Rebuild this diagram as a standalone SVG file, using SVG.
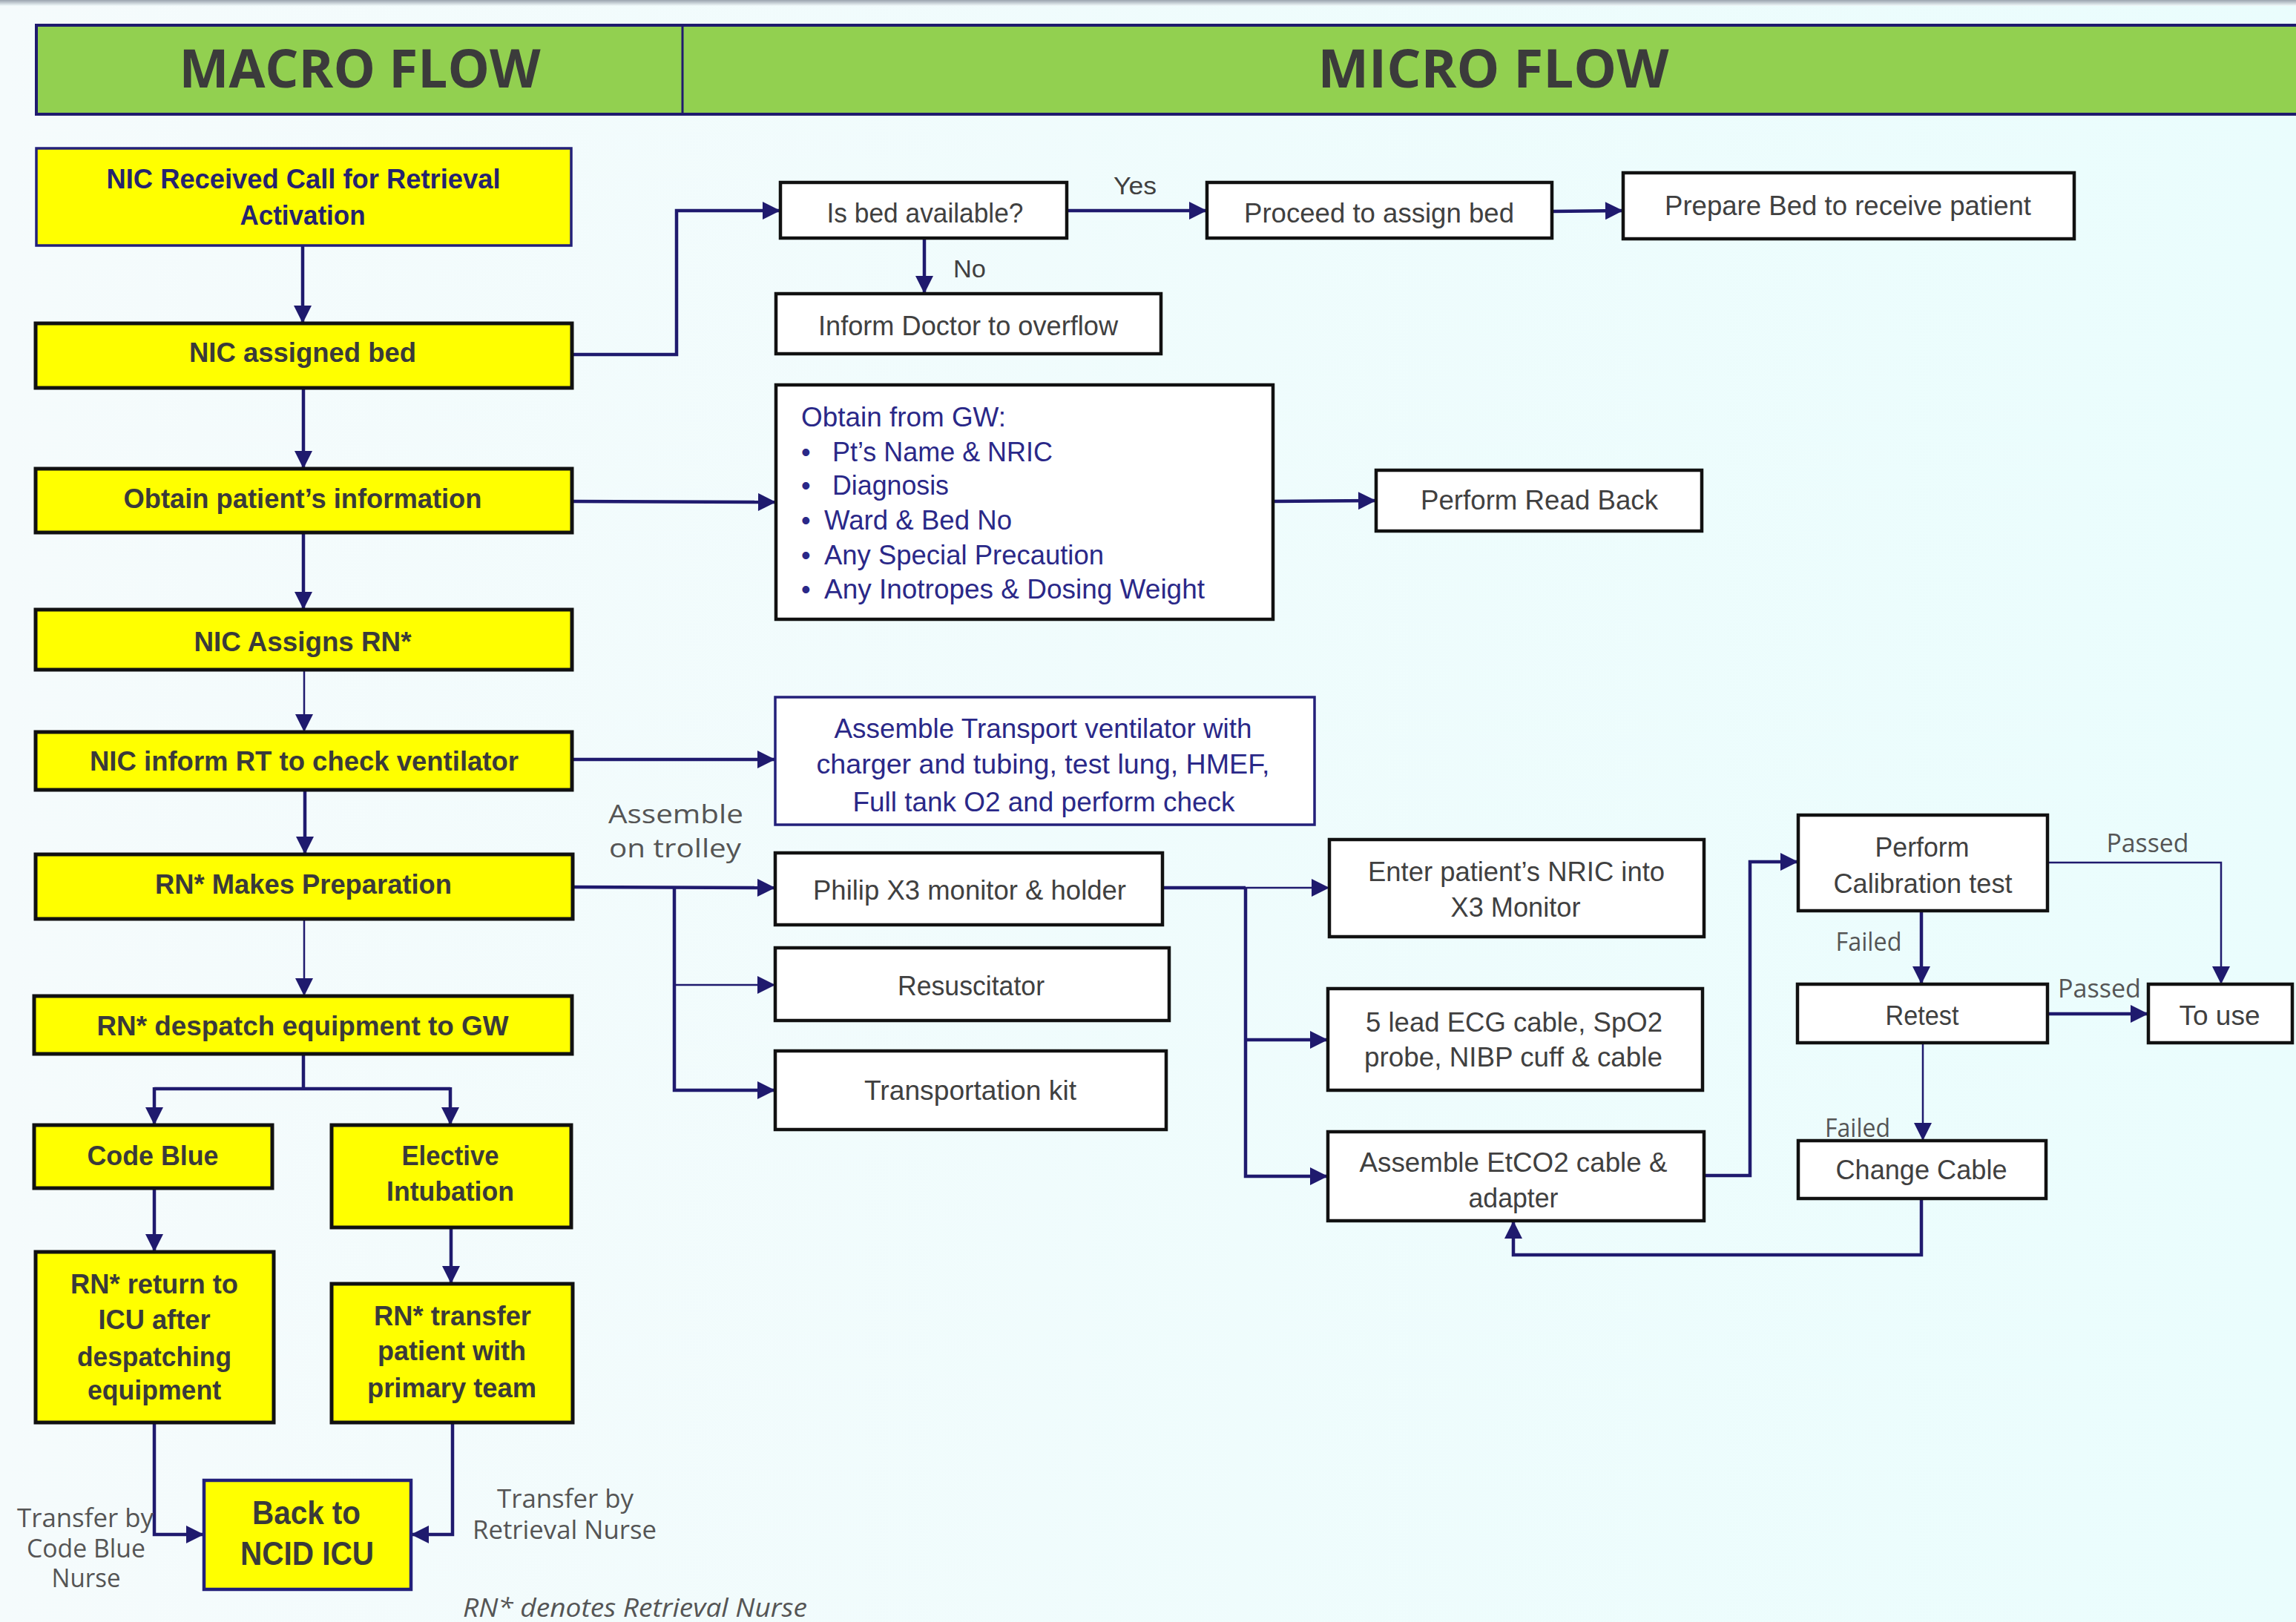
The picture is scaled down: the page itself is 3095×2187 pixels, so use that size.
<svg xmlns="http://www.w3.org/2000/svg" width="3095" height="2187" viewBox="0 0 3095 2187">
<defs>
<linearGradient id="bg" x1="0" y1="0" x2="1" y2="0">
<stop offset="0" stop-color="#F5FBFC"/>
<stop offset="1" stop-color="#EAFDFD"/>
</linearGradient>
<linearGradient id="topband" x1="0" y1="0" x2="0" y2="1">
<stop offset="0" stop-color="#9AA3AE"/>
<stop offset="1" stop-color="#F2FBFC"/>
</linearGradient>
<marker id="ah" viewBox="0 0 10 10" refX="10" refY="5" markerWidth="26" markerHeight="24" markerUnits="userSpaceOnUse" orient="auto">
<path d="M0,0 L10,5 L0,10 z" fill="#1F1A6E"/>
</marker>
</defs>
<style>
.hdr{font-family:"Open Sans","DejaVu Sans",sans-serif;font-weight:bold;font-size:71px;fill:#3B3B3B;text-anchor:middle}
.yb{fill:#FFFF00;stroke:#111111;stroke-width:5}
.ybn{fill:#FFFF00;stroke:#23207A;stroke-width:3.5}
.wb{fill:#FFFFFF;stroke:#111111;stroke-width:4.5}
.wbn{fill:#FFFFFF;stroke:#23207A;stroke-width:3.5}
.lt{font-family:"Liberation Sans",Arial,sans-serif;font-weight:bold;font-size:36px;fill:#3A3A3A;text-anchor:middle}
.lt2{font-family:"Liberation Sans",Arial,sans-serif;font-weight:bold;font-size:44px;fill:#3A3A3A;text-anchor:middle}
.mt{font-family:"Liberation Sans",Arial,sans-serif;font-size:36px;fill:#404040;text-anchor:middle}
.nt{font-family:"Liberation Sans",Arial,sans-serif;font-size:36px;fill:#2A2888}
.ntc{font-family:"Liberation Sans",Arial,sans-serif;font-size:36px;fill:#2A2888;text-anchor:middle}
.lab{font-family:"Open Sans","DejaVu Sans",sans-serif;font-size:34px;fill:#555555;text-anchor:middle}
.labs{font-family:"Liberation Sans",Arial,sans-serif;font-size:33px;fill:#404040;text-anchor:middle}
.note{font-family:"Open Sans","DejaVu Sans",sans-serif;font-style:italic;font-size:34px;fill:#555555}
.c{fill:none;stroke:#1F1A6E;stroke-width:4.5}
.ct{fill:none;stroke:#1F1A6E;stroke-width:2.5}
.a{marker-end:url(#ah)}
</style>
<rect x="0" y="0" width="3095" height="2187" fill="url(#bg)"/>
<rect x="0" y="0" width="3095" height="8" fill="url(#topband)"/>

<g id="header">
<rect x="49" y="34" width="3070" height="120" fill="#92D050" stroke="#1F1A6E" stroke-width="4"/>
<line x1="920" y1="34" x2="920" y2="154" stroke="#1F1A6E" stroke-width="3"/>
<text class="hdr" x="485" y="118" textLength="487" lengthAdjust="spacingAndGlyphs">MACRO FLOW</text>
<text class="hdr" x="2013" y="118" textLength="473" lengthAdjust="spacingAndGlyphs">MICRO FLOW</text>
</g>

<g id="connectors">
<path class="c a" d="M408,331 L408,436"/>
<path class="c a" d="M409,523 L409,632"/>
<path class="c a" d="M409,718 L409,822"/>
<path class="ct a" d="M410,903 L410,987"/>
<path class="c a" d="M411,1065 L411,1152"/>
<path class="ct a" d="M410,1239 L410,1343"/>
<path class="c" d="M409,1421 L409,1468 M208,1468 L607,1468"/>
<path class="c a" d="M208,1466 L208,1517"/>
<path class="c a" d="M607,1466 L607,1517"/>
<path class="c a" d="M208,1602 L208,1688"/>
<path class="c a" d="M608,1655 L608,1731"/>
<path class="c a" d="M208,1918 L208,2069 L275,2069"/>
<path class="c a" d="M610,1918 L610,2069 L554,2069"/>
<path class="c a" d="M771,478 L912,478 L912,284 L1052,284"/>
<path class="c a" d="M1438,284 L1627,284"/>
<path class="c a" d="M2092,285 L2188,284"/>
<path class="c a" d="M1246,321 L1246,396"/>
<path class="c a" d="M771,676 L1046,677"/>
<path class="c a" d="M1716,676 L1855,675"/>
<path class="c a" d="M771,1024 L1045,1024"/>
<path class="c a" d="M772,1196 L1045,1197"/>
<path class="c a" d="M909,1196 L909,1470 L1045,1470"/>
<path class="ct a" d="M909,1328 L1045,1328"/>
<path class="c" d="M1567,1197 L1679,1197"/>
<path class="ct a" d="M1679,1197 L1792,1197"/>
<path class="c a" d="M1679,1197 L1679,1586 L1790,1586"/>
<path class="c a" d="M1679,1402 L1790,1402"/>
<path class="c a" d="M2297,1585 L2359,1585 L2359,1162 L2424,1162"/>
<path class="c a" d="M2590,1228 L2590,1327"/>
<path class="ct a" d="M2760,1163 L2994,1163 L2994,1327"/>
<path class="c a" d="M2760,1367 L2896,1367"/>
<path class="ct a" d="M2592,1406 L2592,1538"/>
<path class="c a" d="M2590,1616 L2590,1692 L2040,1692 L2040,1646"/>
</g>

<g id="n-received">
<rect class="ybn" x="49" y="200" width="721" height="131"/>
<text class="lt" x="409" y="254" textLength="531" lengthAdjust="spacingAndGlyphs" fill="#2A2870" style="fill:#25236E">NIC Received Call for Retrieval</text>
<text class="lt" x="408" y="303" textLength="169" lengthAdjust="spacingAndGlyphs" style="fill:#25236E">Activation</text>
</g>
<g id="n-assigned">
<rect class="yb" x="48" y="436" width="723" height="87"/>
<text class="lt" x="408" y="488" textLength="306" lengthAdjust="spacingAndGlyphs">NIC assigned bed</text>
</g>
<g id="n-obtain">
<rect class="yb" x="48" y="632" width="723" height="86"/>
<text class="lt" x="408" y="685" textLength="483" lengthAdjust="spacingAndGlyphs">Obtain patient’s information</text>
</g>
<g id="n-assignsrn">
<rect class="yb" x="48" y="822" width="723" height="81"/>
<text class="lt" x="408" y="878" textLength="293" lengthAdjust="spacingAndGlyphs">NIC Assigns RN*</text>
</g>
<g id="n-informrt">
<rect class="yb" x="48" y="987" width="723" height="78"/>
<text class="lt" x="410" y="1039" textLength="578" lengthAdjust="spacingAndGlyphs">NIC inform RT to check ventilator</text>
</g>
<g id="n-prep">
<rect class="yb" x="48" y="1152" width="724" height="87"/>
<text class="lt" x="409" y="1205" textLength="400" lengthAdjust="spacingAndGlyphs">RN* Makes Preparation</text>
</g>
<g id="n-despatch">
<rect class="yb" x="46" y="1343" width="725" height="78"/>
<text class="lt" x="408" y="1396" textLength="555" lengthAdjust="spacingAndGlyphs">RN* despatch equipment to GW</text>
</g>
<g id="n-codeblue">
<rect class="yb" x="46" y="1517" width="321" height="85"/>
<text class="lt" x="206" y="1571" textLength="177" lengthAdjust="spacingAndGlyphs">Code Blue</text>
</g>
<g id="n-elective">
<rect class="yb" x="447" y="1517" width="323" height="138"/>
<text class="lt" x="607" y="1571" textLength="131" lengthAdjust="spacingAndGlyphs">Elective</text>
<text class="lt" x="607" y="1619" textLength="172" lengthAdjust="spacingAndGlyphs">Intubation</text>
</g>
<g id="n-rnreturn">
<rect class="yb" x="48" y="1688" width="321" height="230"/>
<text class="lt" x="208" y="1744" textLength="226" lengthAdjust="spacingAndGlyphs">RN* return to</text>
<text class="lt" x="208" y="1792" textLength="151" lengthAdjust="spacingAndGlyphs">ICU after</text>
<text class="lt" x="208" y="1842" textLength="208" lengthAdjust="spacingAndGlyphs">despatching</text>
<text class="lt" x="208" y="1887" textLength="180" lengthAdjust="spacingAndGlyphs">equipment</text>
</g>
<g id="n-rntransfer">
<rect class="yb" x="447" y="1731" width="325" height="187"/>
<text class="lt" x="610" y="1787" textLength="212" lengthAdjust="spacingAndGlyphs">RN* transfer</text>
<text class="lt" x="609" y="1834" textLength="200" lengthAdjust="spacingAndGlyphs">patient with</text>
<text class="lt" x="609" y="1884" textLength="228" lengthAdjust="spacingAndGlyphs">primary team</text>
</g>
<g id="n-back">
<rect class="ybn" x="275" y="1996" width="279" height="147" style="stroke-width:4.5"/>
<text class="lt2" x="413" y="2055" textLength="146" lengthAdjust="spacingAndGlyphs">Back to</text>
<text class="lt2" x="414" y="2110" textLength="180" lengthAdjust="spacingAndGlyphs">NCID ICU</text>
</g>

<g id="n-isbed">
<rect class="wb" x="1052" y="246" width="386" height="75"/>
<text class="mt" x="1247" y="300" textLength="265" lengthAdjust="spacingAndGlyphs">Is bed available?</text>
</g>
<g id="n-proceed">
<rect class="wb" x="1627" y="246" width="465" height="75"/>
<text class="mt" x="1859" y="300" textLength="364" lengthAdjust="spacingAndGlyphs">Proceed to assign bed</text>
</g>
<g id="n-preparebed">
<rect class="wb" x="2188" y="233" width="608" height="89"/>
<text class="mt" x="2491" y="290" textLength="494" lengthAdjust="spacingAndGlyphs">Prepare Bed to receive patient</text>
</g>
<g id="n-informdoc">
<rect class="wb" x="1046" y="396" width="519" height="81"/>
<text class="mt" x="1305" y="452" textLength="404" lengthAdjust="spacingAndGlyphs">Inform Doctor to overflow</text>
</g>
<g id="n-obtaingw">
<rect class="wb" x="1046" y="519" width="670" height="316"/>
<text class="nt" x="1080" y="575" textLength="276" lengthAdjust="spacingAndGlyphs">Obtain from GW:</text>
<text class="nt" x="1080" y="622">•</text>
<text class="nt" x="1122" y="622" textLength="297" lengthAdjust="spacingAndGlyphs">Pt’s Name &amp; NRIC</text>
<text class="nt" x="1080" y="667">•</text>
<text class="nt" x="1122" y="667" textLength="157" lengthAdjust="spacingAndGlyphs">Diagnosis</text>
<text class="nt" x="1080" y="714">•</text>
<text class="nt" x="1111" y="714" textLength="253" lengthAdjust="spacingAndGlyphs">Ward &amp; Bed No</text>
<text class="nt" x="1080" y="761">•</text>
<text class="nt" x="1111" y="761" textLength="377" lengthAdjust="spacingAndGlyphs">Any Special Precaution</text>
<text class="nt" x="1080" y="807">•</text>
<text class="nt" x="1111" y="807" textLength="513" lengthAdjust="spacingAndGlyphs">Any Inotropes &amp; Dosing Weight</text>
</g>
<g id="n-readback">
<rect class="wb" x="1855" y="634" width="439" height="82"/>
<text class="mt" x="2075" y="687" textLength="320" lengthAdjust="spacingAndGlyphs">Perform Read Back</text>
</g>
<g id="n-assemblevent">
<rect class="wbn" x="1045" y="940" width="727" height="172"/>
<text class="ntc" x="1406" y="995" textLength="563" lengthAdjust="spacingAndGlyphs">Assemble Transport ventilator with</text>
<text class="ntc" x="1406" y="1043" textLength="611" lengthAdjust="spacingAndGlyphs">charger and tubing, test lung, HMEF,</text>
<text class="ntc" x="1407" y="1094" textLength="515" lengthAdjust="spacingAndGlyphs">Full tank O2 and perform check</text>
</g>
<g id="n-philip">
<rect class="wb" x="1045" y="1150" width="522" height="97"/>
<text class="mt" x="1307" y="1213" textLength="422" lengthAdjust="spacingAndGlyphs">Philip X3 monitor &amp; holder</text>
</g>
<g id="n-resus">
<rect class="wb" x="1045" y="1278" width="531" height="98"/>
<text class="mt" x="1309" y="1342" textLength="198" lengthAdjust="spacingAndGlyphs">Resuscitator</text>
</g>
<g id="n-transkit">
<rect class="wb" x="1045" y="1417" width="527" height="106"/>
<text class="mt" x="1308" y="1483" textLength="286" lengthAdjust="spacingAndGlyphs">Transportation kit</text>
</g>
<g id="n-nric">
<rect class="wb" x="1792" y="1132" width="505" height="131"/>
<text class="mt" x="2044" y="1188" textLength="400" lengthAdjust="spacingAndGlyphs">Enter patient’s NRIC into</text>
<text class="mt" x="2043" y="1236" textLength="175" lengthAdjust="spacingAndGlyphs">X3 Monitor</text>
</g>
<g id="n-ecg">
<rect class="wb" x="1790" y="1333" width="505" height="137"/>
<text class="mt" x="2041" y="1391" textLength="400" lengthAdjust="spacingAndGlyphs">5 lead ECG cable, SpO2</text>
<text class="mt" x="2040" y="1438" textLength="402" lengthAdjust="spacingAndGlyphs">probe, NIBP cuff &amp; cable</text>
</g>
<g id="n-etco2">
<rect class="wb" x="1790" y="1526" width="507" height="120"/>
<text class="mt" x="2040" y="1580" textLength="415" lengthAdjust="spacingAndGlyphs">Assemble EtCO2 cable &amp;</text>
<text class="mt" x="2040" y="1628" textLength="121" lengthAdjust="spacingAndGlyphs">adapter</text>
</g>
<g id="n-calib">
<rect class="wb" x="2424" y="1099" width="336" height="129"/>
<text class="mt" x="2591" y="1155" textLength="127" lengthAdjust="spacingAndGlyphs">Perform</text>
<text class="mt" x="2592" y="1204" textLength="241" lengthAdjust="spacingAndGlyphs">Calibration test</text>
</g>
<g id="n-retest">
<rect class="wb" x="2423" y="1327" width="337" height="79"/>
<text class="mt" x="2591" y="1382" textLength="99" lengthAdjust="spacingAndGlyphs">Retest</text>
</g>
<g id="n-touse">
<rect class="wb" x="2896" y="1327" width="194" height="79"/>
<text class="mt" x="2992" y="1382" textLength="109" lengthAdjust="spacingAndGlyphs">To use</text>
</g>
<g id="n-change">
<rect class="wb" x="2424" y="1538" width="334" height="78"/>
<text class="mt" x="2590" y="1590" textLength="231" lengthAdjust="spacingAndGlyphs">Change Cable</text>
</g>

<g id="labels">
<text class="labs" x="1530" y="262" textLength="58" lengthAdjust="spacingAndGlyphs">Yes</text>
<text class="labs" x="1307" y="374" textLength="44" lengthAdjust="spacingAndGlyphs">No</text>
<text class="lab" x="911" y="1110" textLength="182" lengthAdjust="spacingAndGlyphs">Assemble</text>
<text class="lab" x="910" y="1156" textLength="178" lengthAdjust="spacingAndGlyphs">on trolley</text>
<text class="lab" x="2519" y="1282" textLength="89" lengthAdjust="spacingAndGlyphs">Failed</text>
<text class="lab" x="2504" y="1533" textLength="88" lengthAdjust="spacingAndGlyphs">Failed</text>
<text class="lab" x="2895" y="1149" textLength="111" lengthAdjust="spacingAndGlyphs">Passed</text>
<text class="lab" x="2830" y="1345" textLength="112" lengthAdjust="spacingAndGlyphs">Passed</text>
<text class="lab" x="115" y="2059" textLength="184" lengthAdjust="spacingAndGlyphs">Transfer by</text>
<text class="lab" x="116" y="2100" textLength="160" lengthAdjust="spacingAndGlyphs">Code Blue</text>
<text class="lab" x="116" y="2140" textLength="93" lengthAdjust="spacingAndGlyphs">Nurse</text>
<text class="lab" x="762" y="2033" textLength="184" lengthAdjust="spacingAndGlyphs">Transfer by</text>
<text class="lab" x="761" y="2075" textLength="248" lengthAdjust="spacingAndGlyphs">Retrieval Nurse</text>
<text class="note" x="624" y="2180" textLength="464" lengthAdjust="spacingAndGlyphs">RN* denotes Retrieval Nurse</text>
</g>
</svg>
